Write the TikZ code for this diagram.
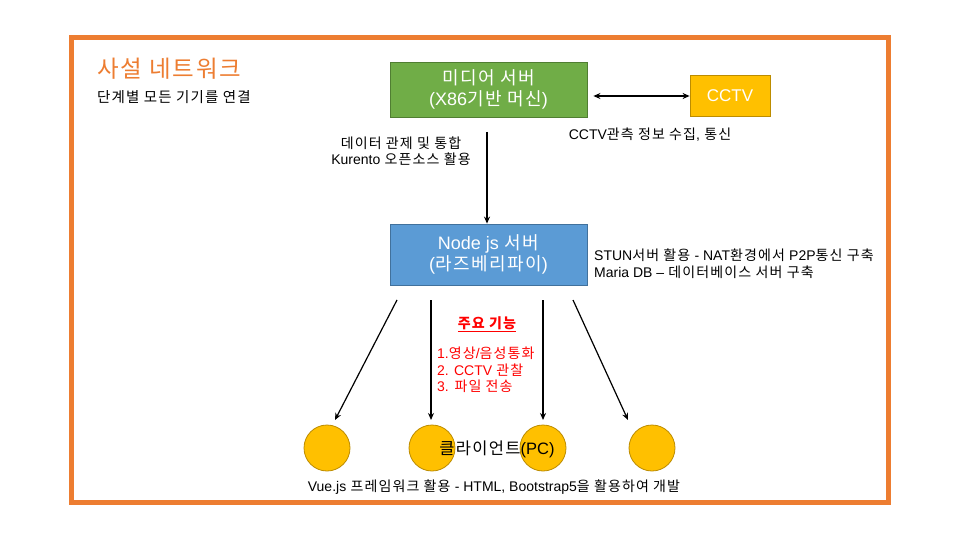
\documentclass[tikz,border=0pt]{standalone}
\usepackage{fontspec}
\setmainfont[LetterSpace=8]{Noto Sans CJK KR}
\newfontfamily\latfont{Liberation Sans}
\newcommand{\lat}[1]{{\latfont #1}}
\usetikzlibrary{arrows.meta}
\definecolor{frameorange}{HTML}{ED7D31}
\definecolor{boxgreen}{HTML}{70AD47}
\definecolor{boxgreenedge}{HTML}{507E32}
\definecolor{boxblue}{HTML}{5B9BD5}
\definecolor{boxblueedge}{HTML}{41719C}
\definecolor{gold}{HTML}{FFC000}
\definecolor{goldedge}{HTML}{BC8C00}
\definecolor{redtext}{HTML}{FF0000}
\tikzset{
  server/.style={draw, line width=0.8pt, minimum width=197pt, minimum height=#1, inner sep=0pt, align=center, text=white, font=\fontsize{18}{21}\selectfont},
  client/.style={circle, draw=goldedge, fill=gold, line width=0.8pt, minimum size=46pt, inner sep=0pt},
  note/.style={font=\fontsize{14}{16.5}\selectfont, inner sep=0pt, align=center},
  link/.style={-{Stealth[length=7pt,width=6pt]}, line width=1.2pt},
}
\begin{document}
\begin{tikzpicture}[x=1pt,y=-1pt]
\useasboundingbox (0,0) rectangle (960,540);
\fill[white] (0,0) rectangle (960,540);
\draw[frameorange, line width=5pt] (71.5,37.5) rectangle (888.5,502.5);

\node[anchor=west, text=frameorange, font=\fontsize{23.5}{27}\selectfont, inner sep=0pt] (title) at (97,69) {사설 네트워크};
\node[anchor=west, font=\fontsize{14.5}{17}\selectfont, inner sep=0pt] (subtitle) at (97,97) {단계별 모든 기기를 연결};

\node[server=55pt, fill=boxgreen, draw=boxgreenedge] (media) at (488.5,89.5) {미디어 서버\\\lat{(X86}기반 머신\lat{)}};
\node[draw=goldedge, fill=gold, line width=0.8pt, minimum width=80pt, minimum height=41pt, inner sep=0pt, text=white, font=\fontsize{17}{21}\selectfont\latfont] (cctv) at (730,95.5) {CCTV};
\draw[{Stealth[length=7pt,width=6pt]}-{Stealth[length=7pt,width=6pt]}, line width=1.2pt] (media.east)+(6,6.5) coordinate (da) -- (cctv.west |- da);

\node[note] (medianote) at (401,151) {데이터 관제 및 통합\\\lat{Kurento} 오픈소스 활용};
\node[note] (cctvnote) at (650,135) {\lat{CCTV}관측 정보 수집\lat{,} 통신};

\node[server=61pt, fill=boxblue, draw=boxblueedge] (node) at (488.5,254.5) {\lat{Node js} 서버\\\lat{(}라즈베리파이\lat{)}};
\coordinate (mediaout) at (487,132);
\draw[link] (mediaout) -- (node.north -| mediaout);

\node[note, align=left, anchor=west] (nodenote) at (594,263.5) {\lat{STUN}서버 활용 \lat{- NAT}환경에서 \lat{P2P}통신 구축\\\lat{Maria DB –} 데이터베이스 서버 구축};

\node[client] (c1) at (327,448) {};
\node[client] (c2) at (432,448) {};
\node[client] (c3) at (543,448) {};
\node[client] (c4) at (652,448) {};

\coordinate (s1) at (397,300);
\coordinate (s2) at (431,300);
\coordinate (s3) at (543,300);
\coordinate (s4) at (573,300);
\coordinate (e1) at (335,420);
\coordinate (e2) at (431,420);
\coordinate (e3) at (543,420);
\coordinate (e4) at (628,420);
\draw[link] (s1) -- (e1);
\draw[link] (s2) -- (e2);
\draw[link] (s3) -- (e3);
\draw[link] (s4) -- (e4);

\node[note, text=redtext, font=\fontsize{14}{16.5}\selectfont\bfseries] (funchead) at (487,324) {\underline{주요 기능}};
\node[note, text=redtext, align=left, anchor=north west] (funclist) at (437,347) {\lat{1.}영상\lat{/}음성통화\\\lat{2. CCTV} 관찰\\\lat{3.} 파일 전송};

\node[font=\fontsize{16.5}{20}\selectfont, inner sep=0pt] (clientlabel) at (497,449) {클라이언트\lat{(PC)}};
\node[note] (clientnote) at (494,487) {\lat{Vue.js} 프레임워크 활용 \lat{- HTML, Bootstrap5}을 활용하여 개발};
\end{tikzpicture}
\end{document}
